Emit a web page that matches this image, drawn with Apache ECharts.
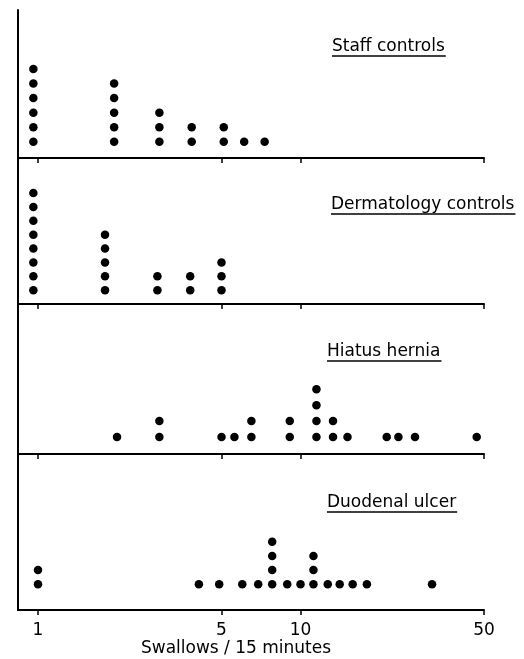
<!DOCTYPE html>
<html>
<head>
<meta charset="utf-8">
<script src="https://cdn.jsdelivr.net/npm/echarts@6/dist/echarts.min.js"></script>
<style>
  html, body { margin: 0; padding: 0; background: #fff; }
  #chart { width: 524px; height: 659px; }
</style>
</head>
<body>
<div id="chart"></div>
<script>
// swallows per 15 minutes, one entry per dot column, and how many subjects sit in it
var panelNames = ['Staff controls', 'Dermatology controls', 'Hiatus hernia', 'Duodenal ulcer'];

var staffValues = [0.96, 1.95, 2.9, 3.85, 5.1, 6.1, 7.3];
var staffCounts = [6, 5, 3, 2, 2, 1, 1];

var dermValues = [0.96, 1.8, 2.85, 3.8, 5.0];
var dermCounts = [8, 5, 2, 2, 3];

var hiatusValues = [2, 2.9, 5, 5.6, 6.5, 9.1, 11.5, 13.3, 15.1, 21.3, 23.6, 27.3, 46.9];
var hiatusCounts = [1, 2, 1, 1, 2, 2, 4, 2, 1, 1, 1, 1, 1];

var duodenalValues = [1, 4.1, 4.9, 6.0, 6.9, 7.8, 8.9, 10, 11.2, 12.7, 14.1, 15.8, 17.9, 31.7];
var duodenalCounts = [2, 1, 1, 1, 1, 4, 1, 1, 3, 1, 1, 1, 1, 1];

var tickValues = [1, 5, 10, 50];
var axisTitle = 'Swallows / 15 minutes';

var panels = [
    {values: staffValues, counts: staffCounts},
    {values: dermValues, counts: dermCounts},
    {values: hiatusValues, counts: hiatusCounts},
    {values: duodenalValues, counts: duodenalCounts}
];

// layout of the four stacked boxes
var gridTops = [10, 158, 304, 454];
var gridHeights = [148, 146, 150, 156];
var yRanges = [[-0.12, 10.06], [0, 10.53], [-0.07, 9.36], [-0.81, 10.18]];
// x, y of each group name (left, middle)
var labelPos = [[332, 47], [331, 205], [327, 352], [327, 503]];

var FONT = 'DejaVu Sans';
var FS = 17;

// one point per subject: x = value, y = its place in the column
function stackDots(values, counts) {
    var pts = [];
    for (var i = 0; i < values.length; i++) {
        for (var k = 1; k <= counts[i]; k++) {
            pts.push([values[i], k]);
        }
    }
    return pts;
}

// width of a label so the underline fits it
var measureCtx = document.createElement('canvas').getContext('2d');
function textWidth(str) {
    measureCtx.font = FS + 'px "' + FONT + '"';
    return measureCtx.measureText(str).width;
}

var grids = [], xAxes = [], yAxes = [], series = [], graphics = [];

panels.forEach(function (p, i) {
    var last = i === panels.length - 1;
    grids.push({left: 18, width: 466, top: gridTops[i], height: gridHeights[i]});
    xAxes.push({
        gridIndex: i,
        type: 'log',
        min: 0.839,
        max: 50,
        position: 'bottom',
        axisLine: {show: true, onZero: false, lineStyle: {color: '#000', width: 2}},
        axisTick: {show: true, customValues: tickValues, length: 5, lineStyle: {color: '#000', width: 1.5}},
        axisLabel: {
            show: last,
            customValues: tickValues,
            color: '#000',
            fontFamily: FONT,
            fontSize: FS,
            margin: 12
        },
        splitLine: {show: false},
        name: last ? axisTitle : '',
        nameLocation: 'middle',
        nameGap: 29,
        nameTextStyle: {color: '#000', fontFamily: FONT, fontSize: FS, padding: [0, 30, 0, 0]}
    });
    yAxes.push({
        gridIndex: i,
        type: 'value',
        min: yRanges[i][0],
        max: yRanges[i][1],
        axisLine: {show: true, onZero: false, lineStyle: {color: '#000', width: 2}},
        axisTick: {show: false},
        axisLabel: {show: false},
        splitLine: {show: false}
    });
    series.push({
        type: 'scatter',
        xAxisIndex: i,
        yAxisIndex: i,
        symbol: 'circle',
        symbolSize: 8.5,
        itemStyle: {color: '#000', opacity: 1},
        silent: true,
        data: stackDots(p.values, p.counts)
    });

    var lp = labelPos[i];
    graphics.push({
        type: 'text',
        x: lp[0],
        y: lp[1],
        style: {
            text: panelNames[i],
            fill: '#000',
            font: FS + 'px "' + FONT + '"',
            textVerticalAlign: 'middle'
        }
    });
    graphics.push({
        type: 'line',
        shape: {x1: lp[0], y1: lp[1] + 9, x2: lp[0] + textWidth(panelNames[i]) + 1, y2: lp[1] + 9},
        style: {stroke: '#000', lineWidth: 1.3}
    });
});

var myChart = echarts.init(document.getElementById('chart'));
myChart.setOption({
    animation: false,
    backgroundColor: '#fff',
    grid: grids,
    xAxis: xAxes,
    yAxis: yAxes,
    series: series,
    graphic: graphics
});
</script>
</body>
</html>
